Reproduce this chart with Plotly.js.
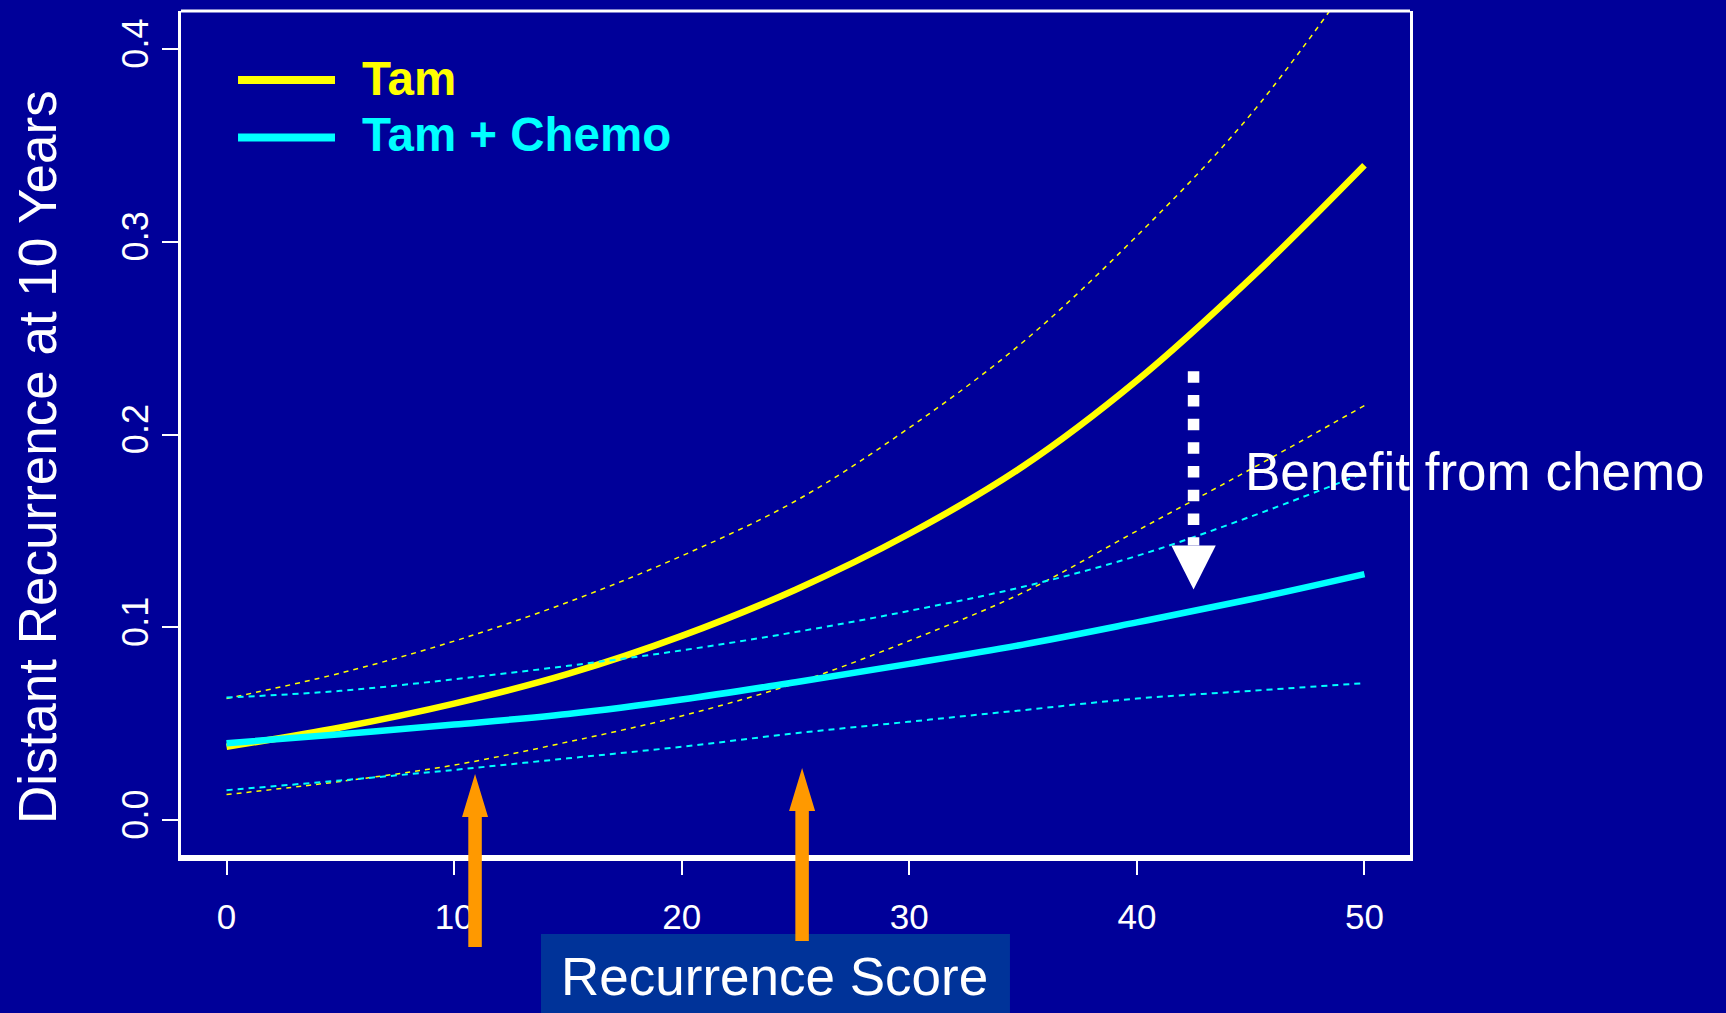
<!DOCTYPE html>
<html>
<head>
<meta charset="utf-8">
<script src="https://cdn.plot.ly/plotly-3.0.1.min.js"></script>
<style>
html, body { margin: 0; padding: 0; background: #000099; }
#chart { width: 1726px; height: 1013px; }
</style>
</head>
<body>
<div id="chart"></div>
<script>
// ---- data ----
const recurrenceScore = [0, 5, 10, 15, 20, 25, 30, 35, 40, 45, 50];
const tam            = [0.0380, 0.0480, 0.0604, 0.0758, 0.0955, 0.1195, 0.1485, 0.1835, 0.2280, 0.2810, 0.3397];
const tamUpper       = [0.0630, 0.0762, 0.0928, 0.1130, 0.1370, 0.1655, 0.2035, 0.2480, 0.3030, 0.3660, 0.4450];
const tamLower       = [0.0132, 0.0200, 0.0285, 0.0405, 0.0540, 0.0710, 0.0930, 0.1180, 0.1500, 0.1820, 0.2150];
const tamChemo       = [0.0398, 0.0445, 0.0495, 0.0550, 0.0625, 0.0715, 0.0810, 0.0910, 0.1025, 0.1145, 0.1276];
const tamChemoUpper  = [0.0635, 0.0670, 0.0730, 0.0800, 0.0880, 0.0975, 0.1085, 0.1210, 0.1370, 0.1574, 0.1800];
const tamChemoLower  = [0.0155, 0.0205, 0.0260, 0.0320, 0.0380, 0.0450, 0.0510, 0.0570, 0.0630, 0.0670, 0.0710];

const seriesNames = ['Tam', 'Tam + Chemo'];
const xTickVals = [0, 10, 20, 30, 40, 50];
const yTickVals = [0, 0.1, 0.2, 0.3, 0.4];
const yTickText = ['0.0', '0.1', '0.2', '0.3', '0.4'];

// annotation marks (score position, tip value, tail value)
const orangeArrowScore = [10.92, 25.29];
const orangeArrowTip   = [0.0239, 0.0270];
const orangeArrowTail  = [-0.0659, -0.0628];
const benefitScore = 42.49;
const benefitFrom  = 0.2328;
const benefitTo    = 0.1196;

// ---- styling / geometry ----
const xRange = [-2, 52];
const yRange = [-0.018157, 0.41971];
const BG = '#000099';
const YEL = '#FFFF00';
const CYA = '#00FFFF';
const ORANGE = '#FF9900';
const FONT = 'Liberation Sans, Arial, Helvetica, sans-serif';

const px2x = 22.76;      // pixels per x unit
const px2y = 1927.5;     // pixels per y unit
const toPX = v => (v - xRange[0]) / (xRange[1] - xRange[0]);
const toPY = v => (v - yRange[0]) / (yRange[1] - yRange[0]);

function line(y, color, width, dash, name) {
  return {
    x: recurrenceScore, y: y, type: 'scatter', mode: 'lines', name: name,
    line: { color: color, width: width, dash: dash, shape: 'spline', smoothing: 1 },
    showlegend: false, hoverinfo: 'skip'
  };
}

const traces = [
  line(tam, YEL, 6.5, 'solid', seriesNames[0]),
  line(tamUpper, YEL, 1.5, '5px,5px', seriesNames[0] + ' upper'),
  line(tamLower, YEL, 1.5, '5px,5px', seriesNames[0] + ' lower'),
  line(tamChemo, CYA, 6.5, 'solid', seriesNames[1]),
  line(tamChemoUpper, CYA, 2, '6px,5px', seriesNames[1] + ' upper'),
  line(tamChemoLower, CYA, 2, '6px,5px', seriesNames[1] + ' lower')
];

const shapes = [];
// top border
shapes.push({ type: 'line', xref: 'paper', yref: 'paper', x0: 0, x1: 1, y0: 1, y1: 1,
  line: { color: 'white', width: 3 } });
// x-axis title box
shapes.push({ type: 'rect', xref: 'paper', yref: 'paper', layer: 'below',
  x0: 0.2929, x1: 0.6745, y0: -0.1872, y1: -0.0936,
  fillcolor: '#003399', line: { width: 0 } });
// legend samples
shapes.push({ type: 'line', xref: 'paper', yref: 'paper', x0: 0.0464, x1: 0.1253, y0: 0.9183, y1: 0.9183,
  line: { color: YEL, width: 8 } });
shapes.push({ type: 'line', xref: 'paper', yref: 'paper', x0: 0.0464, x1: 0.1253, y0: 0.8501, y1: 0.8501,
  line: { color: CYA, width: 8 } });
// orange arrows
const shaftHalf = 6.75 / px2x, headHalf = 13 / px2x, headLen = 43 / px2y;
orangeArrowScore.forEach((s, i) => {
  const tip = orangeArrowTip[i], tail = orangeArrowTail[i], hb = tip - headLen;
  const pts = [
    [s - shaftHalf, tail], [s - shaftHalf, hb], [s - headHalf, hb], [s, tip],
    [s + headHalf, hb], [s + shaftHalf, hb], [s + shaftHalf, tail]
  ];
  const path = 'M' + pts.map(p => toPX(p[0]).toFixed(5) + ',' + toPY(p[1]).toFixed(5)).join('L') + 'Z';
  shapes.push({ type: 'path', xref: 'paper', yref: 'paper', path: path,
    fillcolor: ORANGE, line: { width: 0 } });
});
// white dotted arrow
const wHeadLen = 44 / px2y, wHeadHalf = 22.2 / px2x;
shapes.push({ type: 'line', xref: 'x', yref: 'y', x0: benefitScore, x1: benefitScore,
  y0: benefitFrom, y1: benefitTo + wHeadLen,
  line: { color: 'white', width: 11.5, dash: '11.5px,12.2px' } });
shapes.push({ type: 'path', xref: 'x', yref: 'y',
  path: 'M' + (benefitScore - wHeadHalf) + ',' + (benefitTo + wHeadLen) +
        'L' + (benefitScore + wHeadHalf) + ',' + (benefitTo + wHeadLen) +
        'L' + benefitScore + ',' + benefitTo + 'Z',
  fillcolor: 'white', line: { width: 0 } });

const annotations = [
  { text: 'Distant Recurrence at 10 Years', xref: 'paper', yref: 'paper', x: -0.1168, y: 0.4722,
    xanchor: 'center', yanchor: 'middle', textangle: -90, showarrow: false,
    font: { family: FONT, size: 53, color: 'white' } },
  { text: 'Recurrence Score', xref: 'paper', yref: 'paper', x: 0.4833, y: -0.1434,
    xanchor: 'center', yanchor: 'middle', showarrow: false,
    font: { family: FONT, size: 53, color: 'white' } },
  { text: 'Benefit from chemo', xref: 'x', yref: 'y', x: 44.66, y: 0.1807,
    xanchor: 'left', yanchor: 'middle', showarrow: false,
    font: { family: FONT, size: 53, color: 'white' } },
  { text: '<b>' + seriesNames[0] + '</b>', xref: 'paper', yref: 'paper', x: 0.1455, y: 0.9206,
    xanchor: 'left', yanchor: 'middle', showarrow: false,
    font: { family: FONT, size: 47.5, color: YEL } },
  { text: '<b>' + seriesNames[1] + '</b>', xref: 'paper', yref: 'paper', x: 0.1455, y: 0.8537,
    xanchor: 'left', yanchor: 'middle', showarrow: false,
    font: { family: FONT, size: 47.5, color: CYA } }
];

const layout = {
  width: 1726, height: 1013,
  margin: { l: 181, r: 316, t: 11, b: 158, pad: 0 },
  paper_bgcolor: BG, plot_bgcolor: BG,
  showlegend: false,
  font: { family: FONT, color: 'white' },
  xaxis: {
    range: xRange, tickmode: 'array', tickvals: xTickVals,
    ticks: 'outside', ticklen: 14, tickwidth: 2, tickcolor: 'white',
    showline: true, linewidth: 6, linecolor: 'white', mirror: false,
    showgrid: false, zeroline: false,
    tickfont: { family: FONT, size: 35, color: 'white' },
    ticklabelstandoff: 12
  },
  yaxis: {
    range: yRange, tickmode: 'array', tickvals: yTickVals, ticktext: yTickText,
    tickangle: -90,
    ticks: 'outside', ticklen: 16, tickwidth: 2, tickcolor: 'white',
    showline: true, linewidth: 3, linecolor: 'white', mirror: true,
    showgrid: false, zeroline: false,
    tickfont: { family: FONT, size: 36, color: 'white' },
    ticklabelstandoff: 0
  },
  shapes: shapes,
  annotations: annotations
};

Plotly.newPlot('chart', traces, layout, { displayModeBar: false, staticPlot: true });
</script>
</body>
</html>
